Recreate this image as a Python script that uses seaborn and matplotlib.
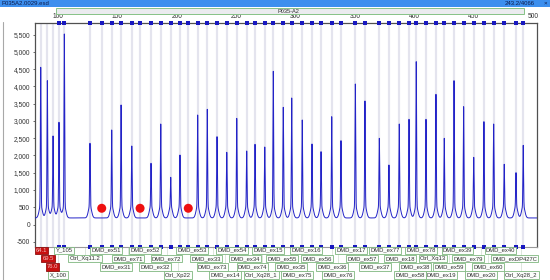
import numpy as np
import pandas as pd
import matplotlib
matplotlib.use("Agg")
import matplotlib.pyplot as plt
import seaborn as sns
from matplotlib.patches import Rectangle
from matplotlib.transforms import blended_transform_factory
from matplotlib.ticker import FuncFormatter, FixedLocator

# ---------------- data ----------------
peak_sizes = [85.4, 91.0, 95.8, 100.8, 105.3, 126.9, 145.2, 153.1, 162.1, 178.3,
              186.5, 194.9, 202.7, 217.6, 225.7, 233.9, 242.1, 250.5, 258.9, 265.9,
              274.1, 281.3, 289.7, 296.8, 305.7, 313.9, 321.5, 330.5, 338.3, 350.4,
              358.5, 370.6, 378.7, 387.4, 395.6, 401.7, 409.9, 418.3, 425.3, 433.5,
              441.6, 450.1, 458.7, 466.9, 475.8, 485.7, 491.8]
peak_heights = [4554, 4166, 2564, 2960, 5518, 2352, 2738, 3462, 2274, 1773,
                2911, 1367, 2013, 3172, 3337, 2543, 2091, 3075, 2129, 2323,
                2245, 4438, 3395, 3665, 3027, 2332, 2109, 3123, 2428, 4070,
                3578, 2497, 1724, 2911, 3047, 4716, 3047, 3771, 2497, 4166,
                3413, 1946, 2978, 2911, 1745, 1501, 2293]
deleted_sizes = [136.8, 169.1, 209.7]
deleted_level = [470, 470, 470]
baseline_level = 190
base_bump = 360

qd_labels = ["64.1", "69.5", "76.0"]
qd_sizes = [86.1, 91.6, 95.4]

row1_names = ["Y_105", "DMD_ex51", "DMD_ex52", "DMD_ex53", "DMD_ex54", "DMD_ex15",
              "DMD_ex16", "DMD_ex17", "DMD_ex77", "DMD_ex78", "DMD_ex39", "DMD_ex40"]
row1_sizes = [105.1, 140.4, 173.3, 212.8, 246.5, 276.8, 308.8, 346.7, 375.4, 405.7, 436.4, 472.6]
row2_names = ["Ctrl_Xq11.2", "DMD_ex71", "DMD_ex72", "DMD_ex33", "DMD_ex34", "DMD_ex55",
              "DMD_ex56", "DMD_ex57", "DMD_ex18", "Ctrl_Xq13", "DMD_ex79", "DMD_exDP427C"]
row2_sizes = [122.7, 158.9, 191.4, 224.6, 257.5, 288.6, 318.1, 356.0, 388.0, 415.8, 445.3, 484.4]
row3_names = ["DMD_ex31", "DMD_ex32", "DMD_ex73", "DMD_ex74", "DMD_ex35", "DMD_ex36",
              "DMD_ex37", "DMD_ex38", "DMD_ex59", "DMD_ex60"]
row3_sizes = [148.8, 181.7, 230.1, 263.8, 296.2, 330.7, 366.9, 400.6, 429.3, 462.1]
row4_names = ["X_100", "Ctrl_Xp22", "DMD_ex14", "Ctrl_Xq28_1", "DMD_ex75", "DMD_ex76",
              "DMD_ex58", "DMD_ex19", "DMD_ex20", "Ctrl_Xq28_2"]
row4_sizes = [100.0, 201.1, 240.6, 271.4, 301.3, 335.8, 396.4, 423.0, 456.2, 490.3]

x_ticks = [100, 150, 200, 250, 300, 350, 400, 450, 500]
y_ticks = [-500, 0, 500, 1000, 1500, 2000, 2500, 3000, 3500, 4000, 4500, 5000, 5500]

file_title = "P035A2.0029.esd"
sample_name = "P035-A2"
status_text = "243.2/4066"

# ---------------- figure ----------------
sns.set_theme(style="white")
plt.rcParams["font.family"] = ["Liberation Sans", "DejaVu Sans"]

W, H = 550, 280
fig = plt.figure(figsize=(W / 100, H / 100), dpi=100)
fig.patch.set_facecolor("white")

def fx(px):
    return px / W

def fy(py):
    return 1 - py / H

ax = fig.add_axes([fx(35), fy(246.7), fx(537) - fx(35), fy(23) - fy(246.7)])
ax.set_facecolor("white")
ax.set_xlim(80.6, 503.4)
ax.set_ylim(-643, 5837)

# bin lines
bins_all = sorted(peak_sizes + deleted_sizes)
for b in bins_all:
    ax.axvline(b, color="#e4e4ee", lw=1.6, zorder=1)

# trace built from the listed peaks (heights are apex values)
x = np.arange(80.6, 503.4, 0.02)
y = np.full_like(x, float(baseline_level))
for s, h in zip(peak_sizes, peak_heights):
    y += base_bump * np.exp(-((x - s) ** 2) / (2 * 1.3 ** 2))
    y += (h - baseline_level - base_bump) * np.exp(-((x - s) ** 2) / (2 * 0.27 ** 2))
trace = pd.DataFrame({"size": x, "rfu": y})
sns.lineplot(data=trace, x="size", y="rfu", ax=ax, color="#2323c8", lw=0.7,
             sort=False, estimator=None, zorder=3)

# deletion markers
dots = pd.DataFrame({"size": deleted_sizes, "rfu": deleted_level})
sns.scatterplot(data=dots, x="size", y="rfu", ax=ax, color="#ee1010", s=42,
                edgecolor="none", zorder=4)

# bin squares on top & bottom edges
sq_bins = [b for b in bins_all if b > 98]
tr_top = blended_transform_factory(ax.transData, ax.transAxes)
for yy in (1.0, 0.0):
    ax.plot(sq_bins, [yy] * len(sq_bins), ls="none", marker="s", ms=2.4, mew=0,
            color="#1818c0", transform=tr_top, clip_on=False, zorder=6)

# axes styling
ax.set_xlabel("")
ax.set_ylabel("")
ax.xaxis.set_major_locator(FixedLocator(x_ticks))
ax.yaxis.set_major_locator(FixedLocator(y_ticks))
ax.yaxis.set_major_formatter(FuncFormatter(lambda v, p: f"{int(v):,}"))
ax.tick_params(axis="x", top=True, labeltop=True, bottom=False, labelbottom=False,
               length=0, pad=2.5, labelsize=4.8, colors="#333333")
ax.tick_params(axis="y", left=True, length=1.5, width=0.5, pad=2, labelsize=4.8,
               colors="#333333")
for side in ["left", "top", "right"]:
    ax.spines[side].set_color("#505050")
    ax.spines[side].set_linewidth(0.9)
ax.spines["bottom"].set_color("#9a9a9a")
ax.spines["bottom"].set_linewidth(0.8)

# ---------------- probe labels ----------------
tr_lab = blended_transform_factory(ax.transData, fig.transFigure)
row_y = [250.3, 258.6, 266.9, 275.1]
rows = [(row1_names, row1_sizes), (row2_names, row2_sizes),
        (row3_names, row3_sizes), (row4_names, row4_sizes)]
for (names, sizes), ry in zip(rows, row_y):
    for n, s in zip(names, sizes):
        ax.plot([s, s], [fy(246.7), fy(ry - 3.5)], color="#cfdccf", lw=0.5,
                transform=tr_lab, clip_on=False, zorder=1)
        ax.text(s, fy(ry), n, transform=tr_lab, ha="center", va="center",
                fontsize=4.2, color="#303030", clip_on=False, zorder=7,
                bbox=dict(boxstyle="square,pad=0.2", fc="#fbfdfb", ec="#7fb77f", lw=0.6))
for n, s, ry in zip(qd_labels, qd_sizes, row_y[:3]):
    ax.text(s, fy(ry), n, transform=tr_lab, ha="center", va="center",
            fontsize=4.2, color="#f0c0c0", clip_on=False, zorder=7,
            bbox=dict(boxstyle="square,pad=0.2", fc="#c81010", ec="#901010", lw=0.6))

# ---------------- window chrome ----------------
fig.patches.append(Rectangle((0, fy(7)), 1, fy(0) - fy(7), transform=fig.transFigure,
                             fc="#3d8fee", ec="none", zorder=0))
fig.text(fx(2), fy(3.5), file_title, fontsize=4.3, color="#0c1a4a", va="center", ha="left")
fig.text(fx(535), fy(3.5), status_text, fontsize=4.3, color="#0c1a4a", va="center", ha="right")
fig.text(fx(545), fy(3.5), "×", fontsize=4.5, color="#0c1a4a", va="center", ha="center")
fig.patches.append(Rectangle((fx(56), fy(14.3)), fx(524) - fx(56), fy(8.3) - fy(14.3),
                             transform=fig.transFigure, fc="#ebebef", ec="#86c286",
                             lw=0.7, zorder=0))
fig.text(fx(277), fy(11.3), sample_name, fontsize=4.1, color="#303030", va="center", ha="left")
fig.lines.append(plt.Line2D([fx(3), fx(3)], [fy(22), 0], transform=fig.transFigure,
                            color="#a8a8a8", lw=0.8))

fig.savefig("out.png", dpi=100)
